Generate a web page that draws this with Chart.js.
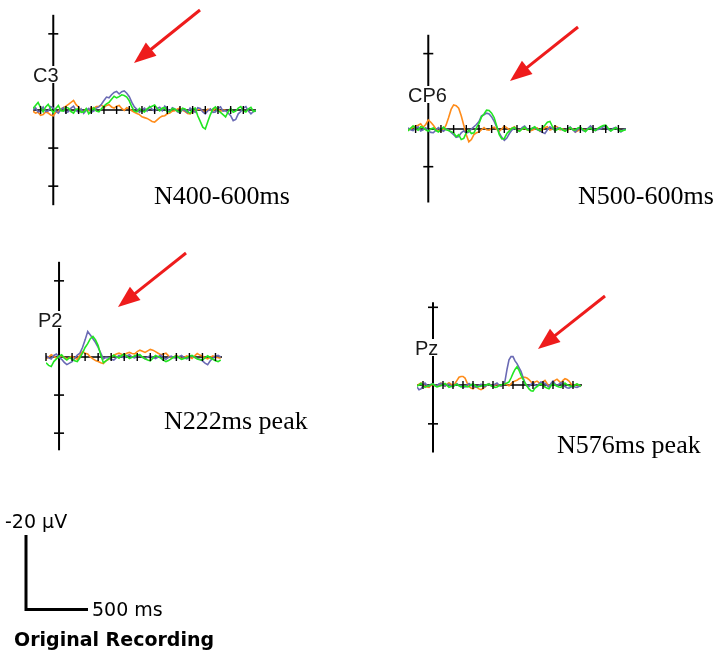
<!DOCTYPE html>
<html><head><meta charset="utf-8">
<script src="https://cdn.jsdelivr.net/npm/chart.js@4/dist/chart.umd.min.js"></script>
<style>
html,body{margin:0;padding:0;background:#fff;}
body{width:717px;height:658px;position:relative;overflow:hidden;}
canvas{position:absolute;z-index:1;}
#ov{position:absolute;left:0;top:0;z-index:2;pointer-events:none;}
</style></head><body>
<svg id="ov" width="717" height="658" xmlns="http://www.w3.org/2000/svg"></svg>
<script>
// ---------------- DATA (time in ms, amplitude in µV; negative plotted upward) ----------------
const c3Times = [-160,-140,-120,-100,-80,-60,-40,-20,0,20,
  40,60,80,100,120,140,160,180,200,220,
  240,260,280,300,320,340,360,380,400,420,
  440,460,480,500,520,540,560,580,600,620,
  640,660,680,700,720,740,760,780,800,820,
  840,860,880,900,920,940,960,980,1000,1020,
  1040,1060,1080,1100,1120,1140,1160,1180,1200,1220,
  1240,1260,1280,1300,1320,1340,1360,1380,1400,1420,
  1440,1460,1480,1500,1520,1540,1560,1580,1600];
const c3Blue = [0,-0.6,0.5,0.2,-0.8,0.4,0.3,-0.9,-0.5,0.3,
  0.8,-0.2,-0.6,0.7,0.4,-0.5,-1.0,0.2,0.6,-0.3,
  0.9,0.1,-0.4,0.6,0.3,-0.5,-0.8,-1.5,-2.5,-3.4,
  -3.2,-4.0,-4.6,-4.9,-4.2,-4.8,-5.0,-4.4,-3.5,-2.0,
  -0.8,-0.2,0.6,0.0,-0.5,0.3,-0.9,-0.2,0.3,-0.4,
  -0.7,0.2,-1.0,-0.3,0.4,-0.6,-0.3,0.5,0.8,-0.2,
  0.2,0.7,-0.5,0.1,0.6,-0.6,-0.4,0.5,1.0,0.2,
  -0.3,0.6,0.5,-0.4,-0.8,0.3,0.2,0.8,1.5,2.8,
  2.5,1.0,0.4,-0.5,-0.9,0.3,1.0,0.4,0.3];
const c3Green = [-0.4,-1.2,-2.0,-0.6,0.5,-0.8,-1.5,-0.3,0.7,-0.4,
  -1.2,0.2,0.3,-0.7,-0.5,0.4,0.8,-0.2,-0.3,0.6,
  0.5,-0.4,1.0,0.2,-0.6,0.3,0.5,-0.3,-1.0,-1.6,
  -2.0,-2.8,-3.6,-3.2,-3.5,-4.0,-3.8,-3.4,-2.4,-0.8,
  0.3,0.5,-0.4,0.2,0.5,-0.3,-0.7,-1.0,-1.3,-0.4,
  0.2,-0.5,-0.6,0.5,0.4,-0.4,-0.2,0.3,0.6,-0.5,
  -0.3,0.4,0.9,-0.2,-0.5,1.5,3.0,4.5,5.0,3.0,
  1.2,-0.3,-0.8,0.2,0.6,1.2,1.8,0.5,-0.4,0.6,
  0.3,-0.5,-0.9,0.2,0.5,-0.3,-0.7,0.4,0.2];
const c3Orange = [0.3,0.8,0.6,1.4,1.2,0.5,0.8,1.3,1.5,0.6,
  0.4,-0.3,-0.6,-1.0,-1.5,-2.0,-2.5,-1.4,-0.8,0.2,
  0.5,-0.2,0.2,-0.6,-0.4,-0.9,-1.0,-1.3,-0.6,-1.2,
  -1.4,-0.8,-0.5,-1.0,-1.2,-0.4,0.1,-0.6,-0.3,0.2,
  0.6,0.9,1.2,1.8,2.0,2.2,2.6,3.0,3.2,2.6,
  2.0,1.6,1.5,1.0,0.8,0.3,0.2,-0.3,-0.5,0.1,
  0.4,0.9,1.0,0.5,0.2,-0.2,-0.3,0.3,0.4,-0.2,
  0.0,0.3,-0.5,-0.2,0.3,0.1,0.0];

const cp6Times = [-160,-140,-120,-100,-80,-60,-40,-20,0,20,
  40,60,80,100,120,140,160,180,200,220,
  240,260,280,300,320,340,360,380,400,420,
  440,460,480,500,520,540,560,580,600,620,
  640,660,680,700,720,740,760,780,800,820,
  840,860,880,900,920,940,960,980,1000,1020,
  1040,1060,1080,1100,1120,1140,1160,1180,1200,1220,
  1240,1260,1280,1300,1320,1340,1360,1380,1400,1420,
  1440,1460,1480,1500,1520,1540,1560];
const cp6Blue = [-0.3,0.2,0.4,-0.2,-0.6,0.5,0.2,-0.3,0.5,0.9,
  1.0,0.3,-0.4,0.2,0.6,0.0,0.3,0.9,1.5,2.2,
  2.0,1.0,0.5,1.1,0.8,0.0,-0.6,-1.2,-2.0,-3.5,
  -3.8,-4.2,-4.0,-3.2,-2.0,-0.5,1.0,2.2,3.0,2.4,
  1.2,0.3,-0.3,0.2,0.5,-0.4,-0.8,0.0,0.3,-0.2,
  -0.4,0.2,0.5,0.9,1.2,0.2,-0.6,-0.1,0.4,-0.3,
  -0.2,0.3,0.5,-0.1,-0.5,0.2,0.8,0.1,-0.3,0.4,
  0.6,-0.2,-0.8,-0.1,0.4,0.1,0.0,-0.7,-0.6,0.1,
  0.5,-0.2,-0.4,0.3,0.8,0.2,0.0];
const cp6Green = [0.5,-0.2,-0.8,-0.1,0.3,-0.6,-0.4,0.2,0.6,0.0,
  -0.3,0.4,0.8,0.1,-0.5,0.2,0.4,0.7,1.0,2.0,
  1.5,2.8,2.5,1.0,0.3,1.2,1.0,-0.3,-1.5,-3.2,
  -4.0,-5.0,-4.9,-4.2,-3.0,-0.8,1.5,2.6,2.5,1.2,
  0.5,-0.2,-0.4,0.3,0.6,0.0,-0.5,0.2,0.3,-0.2,
  -0.6,0.1,0.4,-0.3,-1.0,-1.8,-2.0,-0.6,0.5,0.1,
  -0.3,0.2,0.6,0.0,-0.4,0.2,0.3,-0.3,-0.5,0.2,
  0.7,0.0,-0.3,0.3,0.4,-0.2,-0.6,-0.9,-1.0,-0.2,
  0.5,0.1,-0.4,0.2,0.6,0.4,0.2];
const cp6Orange = [0.3,0.0,-0.5,-0.8,-1.0,-1.4,-0.5,-1.2,-2.4,-1.8,
  -1.0,0.0,0.5,0.6,0.2,-1.0,-3.0,-5.2,-6.4,-6.2,
  -5.5,-3.5,-1.0,1.5,3.4,2.8,1.5,1.0,0.8,0.2,
  -0.4,0.2,0.3,-0.2,-0.5,0.1,0.6,0.0,-0.8,-0.3,
  0.2,-0.2,-0.6,0.1,0.4,0.0,-0.3,0.2,0.5,0.3,
  0.0,-0.3,0.6,0.2,-0.4,-0.6,0.3,0.0,-0.8,-0.5,
  0.2,0.0,0.5,0.3,-0.3,0.0,0.8,0.5,0.0,0.2,
  0.3];

const p2Times = [-100,-80,-60,-40,-20,0,20,40,60,80,
  100,120,140,160,180,200,220,240,260,280,
  300,320,340,360,380,400,420,440,460,480,
  500,520,540,560,580,600,620,640,660,680,
  700,720,740,760,780,800,820,840,860,880,
  900,920,940,960,980,1000,1020,1040,1060,1080,
  1100,1120,1140,1160,1180,1200,1220,1240];
const p2Blue = [-0.3,0.2,0.5,-0.4,-0.8,0.1,0.6,1.4,2.0,1.6,
  1.2,0.3,-0.5,-1.0,-2.5,-4.5,-6.7,-5.8,-4.8,-3.8,
  -2.5,-1.0,0.5,0.1,0.2,0.6,0.8,0.2,-0.4,-0.1,
  0.3,-0.3,-0.6,0.0,0.2,-0.2,-0.4,0.1,0.5,0.0,
  -0.3,0.1,0.4,0.0,-0.5,0.2,0.6,0.1,-0.2,0.2,
  0.3,-0.1,-0.4,0.2,0.5,0.0,-0.3,0.1,0.4,0.6,
  1.0,1.6,2.0,1.0,0.3,-0.2,-0.4,0.0];
const p2Green = [1.5,2.2,2.5,1.2,0.5,-0.2,-0.6,0.3,0.8,0.2,
  0.5,1.0,1.2,0.2,-1.0,-2.5,-3.5,-4.8,-5.4,-4.5,
  -3.0,-0.5,1.5,1.0,0.5,0.0,-0.5,-0.1,0.3,-0.4,
  -0.8,-0.2,0.4,0.1,-0.3,-0.5,-0.6,0.0,0.5,0.8,
  1.0,0.3,-0.4,-0.1,0.3,0.8,1.2,0.9,0.5,0.0,
  -0.3,0.2,0.6,0.4,0.2,-0.2,-0.4,0.1,0.5,0.7,
  0.8,0.2,-0.3,0.2,0.6,1.0,1.2,0.8];
const p2Orange = [0.5,0.0,-0.6,-0.2,0.3,0.0,-0.4,0.1,0.5,0.2,
  -0.2,0.3,0.6,-0.5,-1.4,-1.0,-0.8,0.0,0.5,0.9,
  1.2,1.5,1.7,1.0,0.6,0.0,-0.5,-0.8,-1.0,-0.7,
  -0.6,-1.0,-1.2,-0.9,-0.8,-1.4,-1.8,-1.5,-1.2,-1.6,
  -2.0,-1.8,-1.4,-1.0,-0.6,-0.8,-1.0,-0.3,0.3,0.0,
  -0.4,0.0,0.5,0.1,-0.3,0.0,0.4,-0.3,-0.9,-0.5,
  -0.2,0.2,0.5,0.1,-0.3,0.0,0.2,0.3];

const pzTimes = [-160,-140,-120,-100,-80,-60,-40,-20,0,20,
  40,60,80,100,120,140,160,180,200,220,
  240,260,280,300,320,340,360,380,400,420,
  440,460,480,500,520,540,560,580,600,620,
  640,660,680,700,720,740,760,780,800,820,
  840,860,880,900,920,940,960,980,1000,1020,
  1040,1060,1080,1100,1120,1140,1160,1180,1200,1220,
  1240,1260,1280,1300,1320,1340,1360,1380,1400,1420,
  1440,1460,1480];
const pzBlue = [0.5,1.2,1.0,0.2,-0.5,0.1,0.4,-0.2,-0.3,0.1,
  0.2,-0.3,-0.4,0.1,0.3,-0.1,-0.2,0.3,0.4,0.0,
  -0.3,0.1,0.2,0.5,0.5,0.0,-0.4,0.0,0.3,0.5,
  0.6,0.1,-0.2,0.3,0.4,0.0,-0.3,0.1,0.2,-0.2,
  -0.5,0.0,0.3,0.0,-1.0,-4.0,-6.5,-7.3,-7.3,-6.2,
  -5.5,-4.5,-3.5,-2.0,-0.5,0.2,0.4,-0.2,-0.6,0.0,
  0.3,-0.3,-0.8,-0.6,-0.4,0.1,0.5,-0.4,-1.0,-0.3,
  0.2,-0.2,-0.6,0.0,0.4,0.7,0.8,0.5,0.3,0.5,
  0.6,0.4,0.2];
const pzGreen = [0.3,0.0,-0.4,0.2,0.6,0.3,0.2,-0.1,-0.3,0.2,
  0.5,0.3,0.2,-0.1,-0.4,0.1,0.6,0.4,0.3,0.0,
  -0.2,0.2,0.5,0.3,0.2,0.5,0.4,0.0,-0.3,0.1,
  0.5,0.4,0.3,0.0,0.1,-0.1,-0.2,0.2,0.4,0.6,
  0.5,0.2,0.0,-0.2,-0.3,-0.5,-0.8,-1.8,-3.0,-4.0,
  -4.7,-3.8,-2.5,-1.5,-0.5,0.3,1.0,1.5,1.6,0.8,
  0.4,0.0,-0.3,0.2,0.5,0.8,1.0,0.2,-0.4,0.0,
  0.3,0.5,0.6,0.0,-0.5,-0.1,0.2,0.3,0.4,0.0,
  -0.3,0.0,0.3];
const pzOrange = [0.2,-0.2,-0.5,0.0,0.3,0.5,0.6,0.1,-0.2,0.1,
  0.4,0.0,-0.5,-0.1,0.3,-0.2,-0.6,-0.2,0.2,-0.4,
  -1.2,-2.0,-2.2,-2.2,-1.8,-0.6,0.4,0.8,1.0,0.5,
  0.6,1.0,1.2,0.9,0.5,0.0,-0.3,0.1,0.4,0.0,
  -0.2,0.1,0.3,-0.1,-0.5,-0.1,0.2,-0.3,-0.8,-1.0,
  -1.2,-1.6,-1.8,-2.0,-2.0,-1.8,-1.4,-0.8,-0.5,-0.8,
  -1.0,-0.6,-0.3,-0.8,-1.2,-0.4,0.3,-0.2,-0.8,-1.2,
  -1.5,-1.0,-0.5,-1.2,-1.6,-1.4,-1.0,-0.3,0.3,0.0,
  -0.2,0.1,0.4];

const panelNames = ['C3','CP6','P2','Pz'];
const panelNotes = ['N400-600ms','N500-600ms','N222ms peak','N576ms peak'];

// ---------------- LAYOUT ----------------
const COLORS = {blue:'#6a6ab4', green:'#22e622', orange:'#ff8c1a'};
const panels = [
  {name:panelNames[0], times:c3Times, blue:c3Blue, green:c3Green, orange:c3Orange,
   x0:53, y0:110, kx:0.1269, ky:3.8, xMin:-160, xMax:1600, axTop:-25, axBot:25, tickEnd:1500,
   label:{x:33,y:82}},
  {name:panelNames[1], times:cp6Times, blue:cp6Blue, green:cp6Green, orange:cp6Orange,
   x0:428, y0:129, kx:0.1269, ky:3.76, xMin:-160, xMax:1560, axTop:-25, axBot:19.5, tickEnd:1500,
   label:{x:408,y:102}},
  {name:panelNames[2], times:p2Times, blue:p2Blue, green:p2Green, orange:p2Orange,
   x0:59, y0:357, kx:0.1304, ky:3.8, xMin:-100, xMax:1250, axTop:-25, axBot:24.5, tickEnd:1200,
   label:{x:38,y:327}},
  {name:panelNames[3], times:pzTimes, blue:pzBlue, green:pzGreen, orange:pzOrange,
   x0:433, y0:385, kx:0.1, ky:3.9, xMin:-160, xMax:1490, axTop:-21.3, axBot:17.4, tickEnd:1400,
   label:{x:415,y:355}}
];

const eegAxes = {
  id:'eegAxes',
  beforeDatasetsDraw(chart, args, o){
    const ctx = chart.ctx, xs = chart.scales.x, ys = chart.scales.y;
    ctx.save();
    ctx.strokeStyle = '#000';
    ctx.lineWidth = 2;
    const ax = xs.getPixelForValue(0);
    ctx.beginPath();
    ctx.moveTo(ax, ys.getPixelForValue(o.axTop));
    ctx.lineTo(ax, ys.getPixelForValue(o.axBot));
    ctx.stroke();
    ctx.lineWidth = 1.6;
    ctx.beginPath();
    const by = ys.getPixelForValue(0);
    ctx.moveTo(xs.getPixelForValue(o.xMin), by);
    ctx.lineTo(xs.getPixelForValue(o.xMax), by);
    ctx.stroke();
    for (let v = -20; v <= 20; v += 10) {
      if (v === 0 || v < o.axTop || v > o.axBot) continue;
      const py = ys.getPixelForValue(v);
      ctx.beginPath(); ctx.moveTo(ax-5, py); ctx.lineTo(ax+5, py); ctx.stroke();
    }
    ctx.restore();
  },
  afterDatasetsDraw(chart, args, o){
    const ctx = chart.ctx, xs = chart.scales.x, ys = chart.scales.y;
    const by = ys.getPixelForValue(0);
    ctx.save();
    ctx.strokeStyle = '#000';
    ctx.lineWidth = 1.4;
    for (let t = -100; t <= o.tickEnd; t += 100) {
      if (t === 0) continue;
      const px = xs.getPixelForValue(t);
      ctx.beginPath(); ctx.moveTo(px, by-4); ctx.lineTo(px, by+4); ctx.stroke();
    }
    ctx.restore();
  }
};

const PAD = 8;
panels.forEach(p => {
  const yMin = -26, yMax = 26;
  const left = Math.round(p.x0 + p.xMin*p.kx - PAD);
  const right = Math.round(p.x0 + p.xMax*p.kx + PAD);
  const top = Math.round(p.y0 + yMin*p.ky - PAD);
  const bottom = Math.round(p.y0 + yMax*p.ky + PAD);
  const cv = document.createElement('canvas');
  cv.width = right-left; cv.height = bottom-top;
  cv.style.left = left+'px'; cv.style.top = top+'px';
  cv.style.width = (right-left)+'px'; cv.style.height = (bottom-top)+'px';
  document.body.appendChild(cv);
  const mk = (vals) => vals.map((v,i)=>({x:p.times[i], y:v}));
  new Chart(cv.getContext('2d'), {
    type:'line',
    data:{datasets:[
      {label:'green', data:mk(p.green), borderColor:COLORS.green},
      {label:'blue', data:mk(p.blue), borderColor:COLORS.blue},
      {label:'orange', data:mk(p.orange), borderColor:COLORS.orange}
    ]},
    options:{
      responsive:false, animation:false, devicePixelRatio:1,
      layout:{padding:PAD},
      elements:{line:{borderWidth:1.6, tension:0}, point:{radius:0}},
      scales:{
        x:{type:'linear', min:p.xMin, max:p.xMax, display:false},
        y:{type:'linear', min:yMin, max:yMax, reverse:true, display:false}
      },
      plugins:{legend:{display:false}, tooltip:{enabled:false},
        eegAxes:{xMin:p.xMin, xMax:p.xMax, axTop:p.axTop, axBot:p.axBot, tickEnd:p.tickEnd}}
    },
    plugins:[eegAxes]
  });
});

// ---------------- OVERLAY: labels, notes, arrows, scale bar ----------------
const NS = 'http://www.w3.org/2000/svg';
const svg = document.getElementById('ov');
function el(tag, attrs, text){
  const e = document.createElementNS(NS, tag);
  for (const k in attrs) e.setAttribute(k, attrs[k]);
  if (text !== undefined) e.textContent = text;
  svg.appendChild(e); return e;
}
panels.forEach(p => {
  const t = el('text', {x:p.label.x, y:p.label.y, 'font-family':'Liberation Sans, Arial, sans-serif', 'font-size':20, fill:'#1a1a1a'}, p.name);
  const b = t.getBBox();
  const r = document.createElementNS(NS,'rect');
  r.setAttribute('x', b.x-1); r.setAttribute('y', b.y+2);
  r.setAttribute('width', b.width+6); r.setAttribute('height', b.height-5);
  r.setAttribute('fill','#fff');
  svg.insertBefore(r, t);
});
const notePos = [{x:154,y:204},{x:578,y:204},{x:164,y:429},{x:557,y:453}];
panelNotes.forEach((s,i)=> el('text', {x:notePos[i].x, y:notePos[i].y, 'font-family':'Liberation Serif, Times New Roman, serif', 'font-size':26, fill:'#000'}, s));
function arrow(x1,y1,x2,y2){
  const dx = x2-x1, dy = y2-y1, L = Math.hypot(dx,dy), ux = dx/L, uy = dy/L;
  const hl = 22, hw = 8.5;
  const bx = x2-ux*hl, by = y2-uy*hl;
  el('line', {x1:x1, y1:y1, x2:bx+ux*2, y2:by+uy*2, stroke:'#ee1c1c', 'stroke-width':3});
  el('polygon', {points:`${x2},${y2} ${bx-uy*hw},${by+ux*hw} ${bx+uy*hw},${by-ux*hw}`, fill:'#ee1c1c'});
}
arrow(200,10,134,63);
arrow(578,27,510,81);
arrow(186,253,118,307);
arrow(605,296,538,349);
el('path', {d:'M26 535 L26 609.5 L88 609.5', stroke:'#000', 'stroke-width':3, fill:'none'});
el('text', {x:5, y:528, 'font-family':'DejaVu Sans, sans-serif', 'font-size':19, fill:'#000'}, '-20 µV');
el('text', {x:92, y:616, 'font-family':'DejaVu Sans, sans-serif', 'font-size':19, fill:'#000'}, '500 ms');
el('text', {x:14, y:646, 'font-family':'DejaVu Sans, sans-serif', 'font-size':19, 'font-weight':'bold', fill:'#000'}, 'Original Recording');
</script>
</body></html>
